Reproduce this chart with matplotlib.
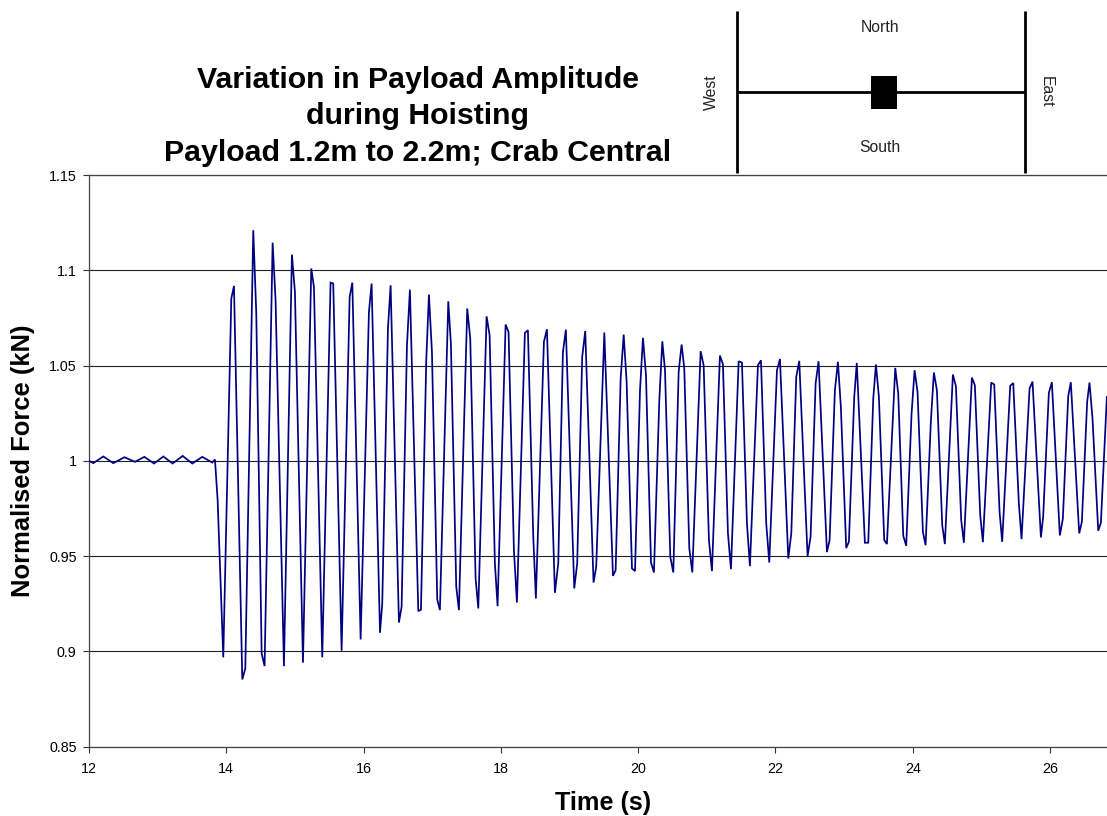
import matplotlib
matplotlib.use("Agg")
import matplotlib.pyplot as plt
from matplotlib.patches import Rectangle

plt.rcParams['font.family'] = ['Liberation Sans', 'DejaVu Sans']

TITLE = "Variation in Payload Amplitude\nduring Hoisting\nPayload 1.2m to 2.2m; Crab Central"
XLABEL = "Time (s)"
YLABEL = "Normalised Force (kN)"
X_TICKS = [12, 14, 16, 18, 20, 22, 24, 26]
Y_TICKS = [0.85, 0.9, 0.95, 1, 1.05, 1.1, 1.15]
Y_TICK_LABELS = ["0.85", "0.9", "0.95", "1", "1.05", "1.1", "1.15"]

# turning points
time_s = [
    12.000, 12.063, 12.209, 12.354, 12.515, 12.670, 12.806, 12.947, 13.083, 13.218, 13.364, 13.505, 13.650, 13.796, 13.835,
    13.874, 13.956, 14.073, 14.112, 14.233, 14.277, 14.393, 14.437, 14.515, 14.558, 14.675, 14.718, 14.840, 14.956, 15.000,
    15.117, 15.238, 15.277, 15.398, 15.519, 15.558, 15.680, 15.797, 15.836, 15.957, 16.078, 16.117, 16.239, 16.272, 16.355,
    16.394, 16.515, 16.554, 16.632, 16.675, 16.797, 16.836, 16.913, 16.952, 16.996, 17.073, 17.112, 17.234, 17.272, 17.350,
    17.389, 17.510, 17.554, 17.632, 17.671, 17.792, 17.836, 17.913, 17.952, 18.069, 18.112, 18.190, 18.234, 18.350, 18.394,
    18.472, 18.510, 18.627, 18.671, 18.787, 18.836, 18.904, 18.947, 19.069, 19.112, 19.185, 19.229, 19.350, 19.389, 19.507,
    19.633, 19.672, 19.745, 19.789, 19.832, 19.910, 19.954, 20.027, 20.070, 20.114, 20.187, 20.230, 20.308, 20.352, 20.391,
    20.468, 20.512, 20.590, 20.633, 20.672, 20.745, 20.789, 20.910, 20.954, 21.031, 21.075, 21.191, 21.235, 21.308, 21.352,
    21.464, 21.512, 21.585, 21.628, 21.745, 21.789, 21.866, 21.910, 22.022, 22.066, 22.187, 22.231, 22.303, 22.347, 22.468,
    22.512, 22.585, 22.628, 22.750, 22.789, 22.866, 22.910, 22.953, 23.031, 23.070, 23.148, 23.185, 23.303, 23.352, 23.425,
    23.464, 23.507, 23.585, 23.624, 23.745, 23.789, 23.862, 23.905, 23.983, 24.027, 24.070, 24.148, 24.187, 24.265, 24.308,
    24.352, 24.430, 24.468, 24.585, 24.629, 24.706, 24.745, 24.862, 24.905, 24.983, 25.022, 25.143, 25.187, 25.265, 25.303,
    25.420, 25.464, 25.546, 25.585, 25.702, 25.745, 25.867, 25.900, 25.983, 26.027, 26.143, 26.187, 26.265, 26.303, 26.425,
    26.464, 26.541, 26.575, 26.619, 26.702, 26.741, 26.828,
]
force = [
    1.0000, 0.9988, 1.0023, 0.9988, 1.0019, 0.9995, 1.0021, 0.9986, 1.0023, 0.9986, 1.0026, 0.9986, 1.0021, 0.9991, 1.0007,
    0.9793, 0.8968, 1.0852, 1.0919, 0.8852, 0.8910, 1.1211, 1.0773, 0.8989, 0.8922, 1.1146, 1.0843, 0.8922, 1.1083, 1.0887,
    0.8940, 1.1010, 1.0913, 0.8968, 1.0936, 1.0931, 0.9003, 1.0861, 1.0936, 0.9062, 1.0782, 1.0931, 0.9097, 0.9251, 1.0695,
    1.0922, 0.9151, 0.9234, 1.0607, 1.0899, 0.9211, 0.9218, 1.0528, 1.0873, 1.0572, 0.9272, 0.9216, 1.0838, 1.0616, 0.9339,
    0.9216, 1.0800, 1.0642, 0.9382, 0.9225, 1.0759, 1.0660, 0.9461, 0.9237, 1.0716, 1.0677, 0.9531, 0.9256, 1.0672, 1.0686,
    0.9601, 0.9277, 1.0625, 1.0691, 0.9307, 0.9461, 1.0572, 1.0689, 0.9330, 0.9461, 1.0546, 1.0682, 0.9361, 0.9444, 1.0674,
    0.9396, 0.9426, 1.0432, 1.0663, 1.0415, 0.9435, 0.9421, 1.0371, 1.0646, 1.0450, 0.9466, 0.9414, 1.0318, 1.0628, 1.0476,
    0.9496, 0.9414, 1.0467, 1.0611, 1.0485, 0.9540, 0.9414, 1.0576, 1.0502, 0.9584, 0.9421, 1.0553, 1.0507, 0.9619, 0.9431,
    1.0523, 1.0516, 0.9671, 0.9447, 1.0502, 1.0528, 0.9671, 0.9466, 1.0476, 1.0535, 0.9487, 0.9619, 1.0441, 1.0525, 0.9500,
    0.9601, 1.0406, 1.0523, 0.9521, 0.9584, 1.0371, 1.0520, 1.0283, 0.9542, 0.9575, 1.0336, 1.0514, 0.9570, 0.9570, 1.0327,
    1.0506, 1.0336, 0.9584, 0.9563, 1.0488, 1.0353, 0.9606, 0.9554, 1.0248, 1.0476, 1.0362, 0.9627, 0.9557, 1.0213, 1.0464,
    1.0371, 0.9662, 0.9563, 1.0453, 1.0392, 0.9689, 0.9570, 1.0437, 1.0397, 0.9715, 0.9573, 1.0411, 1.0401, 0.9732, 0.9575,
    1.0394, 1.0409, 0.9776, 0.9589, 1.0380, 1.0416, 0.9598, 0.9706, 1.0357, 1.0413, 0.9608, 0.9697, 1.0339, 1.0413, 0.9619,
    0.9680, 1.0310, 1.0411, 1.0222, 0.9633, 0.9675, 1.0336,
]

W, H = 1107, 816
fig = plt.figure(figsize=(W / 100, H / 100), dpi=100, facecolor="white")

L, R, T, B = 89, 1107, 175.2, 746.5
ax = fig.add_axes([L / W, 1 - B / H, (R - L) / W, (B - T) / H])
ax.set_xlim(12, 26.83)
ax.set_ylim(0.85, 1.15)
ax.set_xticks(X_TICKS)
ax.set_yticks(Y_TICKS)
ax.set_yticklabels(Y_TICK_LABELS)
ax.tick_params(axis="both", labelsize=10.3, length=4, width=0.8, color="#333333")
ax.tick_params(axis="y", pad=5)
ax.tick_params(axis="x", pad=7.5)
ax.yaxis.grid(True, color="#222222", linewidth=0.8)
ax.set_axisbelow(True)
ax.spines["right"].set_visible(False)
for side in ("left", "bottom", "top"):
    ax.spines[side].set_color("#444444")
    ax.spines[side].set_linewidth(0.9)

ax.plot(time_s, force, color="#000080", linewidth=1.25, solid_joinstyle="miter", zorder=3)

# overlay in pixel units for the title block, axis titles and the plan diagram
ov = fig.add_axes([0, 0, 1, 1], facecolor="none")
ov.set_xlim(0, W)
ov.set_ylim(H, 0)
ov.axis("off")

ov.text(418, 116.5, TITLE, ha="center", va="center", fontsize=21.8, fontweight="bold",
        linespacing=1.385, color="black")
ov.text(603, 803, XLABEL, ha="center", va="center", fontsize=18.2, fontweight="bold")
ov.text(23, 461, YLABEL, ha="center", va="center", rotation=90, fontsize=18.4, fontweight="bold")

ov.plot([736.5, 736.5], [11, 173], color="black", linewidth=2.0, solid_capstyle="butt")
ov.plot([1024.5, 1024.5], [11, 173], color="black", linewidth=2.0, solid_capstyle="butt")
ov.plot([737, 1025], [92, 92], color="black", linewidth=2.0, solid_capstyle="butt")
ov.add_patch(Rectangle((871, 75.5), 26, 33, facecolor="black", edgecolor="none"))

ov.text(880, 27, "North", ha="center", va="center", fontsize=11.3, color="#222222")
ov.text(880, 147.5, "South", ha="center", va="center", fontsize=11.3, color="#222222")
ov.text(711.5, 92, "West", ha="center", va="center", rotation=90, fontsize=11.3, color="#222222")
ov.text(1046, 92, "East", ha="center", va="center", rotation=270, fontsize=11.3, color="#222222")

fig.savefig("out.png", dpi=100, facecolor="white")
